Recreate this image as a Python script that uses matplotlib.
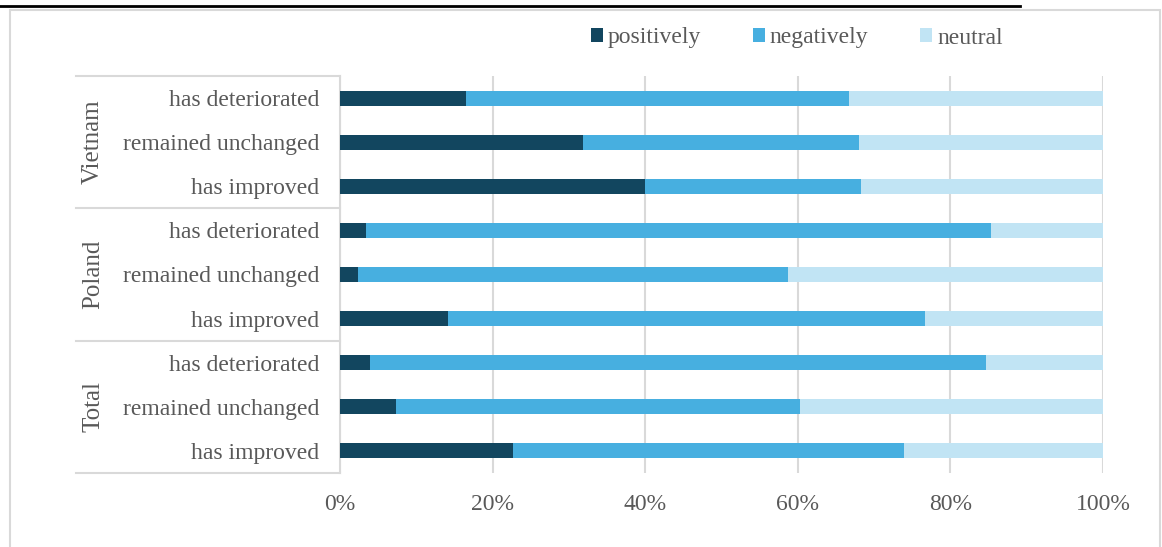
import matplotlib.pyplot as plt
import matplotlib.transforms as mtransforms
from matplotlib.patches import Patch, Rectangle
from matplotlib.lines import Line2D
import numpy as np

plt.rcParams['font.family'] = ['Liberation Serif', 'DejaVu Serif']

# rows from top to bottom
groups = ['Vietnam', 'Poland', 'Total']
answers = ['has deteriorated', 'remained unchanged', 'has improved']
positively = [16.5, 31.8, 40.0, 3.4, 2.3, 14.1, 3.9, 7.4, 22.7]
negatively = [50.2, 36.2, 28.3, 81.9, 56.4, 62.6, 80.8, 52.9, 51.2]
neutral = [33.3, 32.0, 31.7, 14.7, 41.3, 23.3, 15.3, 39.7, 26.1]
series_names = ['positively', 'negatively', 'neutral']
colors = ['#12465f', '#47afe0', '#c1e4f4']

W, H = 1162, 547
fig = plt.figure(figsize=(W / 100, H / 100), dpi=100)
ax = fig.add_axes([340 / W, 1 - 473 / H, 763 / W, 397 / H])

labels = answers * len(groups)
y = np.arange(len(labels))
left = np.zeros(len(labels))
for vals, name, c in zip([positively, negatively, neutral], series_names, colors):
    vals = np.array(vals)
    ax.barh(y, vals, left=left, height=0.34, color=c, label=name, zorder=3)
    left += vals

ax.set_xlim(0, 100)
ax.set_ylim(len(labels) - 0.5, -0.5)
ax.set_xticks(np.arange(0, 101, 20))
ax.set_xticklabels([f'{v}%' for v in range(0, 101, 20)])
ax.set_yticks(y)
ax.set_yticklabels(labels)
ax.grid(axis='x', color='#d9d9d9', linewidth=1.5, zorder=0)
for s in ['top', 'right', 'bottom']:
    ax.spines[s].set_visible(False)
ax.spines['left'].set_color('#d9d9d9')
ax.spines['left'].set_linewidth(1.5)
ax.tick_params(axis='both', length=0, labelsize=17, labelcolor='#595959')
ax.tick_params(axis='y', pad=15)
ax.tick_params(axis='x', pad=15)

# group boxes on the category axis
trans = mtransforms.blended_transform_factory(ax.transAxes, ax.transData)
x0 = (76 - 340) / 763
for b in [-0.5, 2.5, 5.5, 8.5]:
    ax.plot([x0, 0], [b, b], color='#d9d9d9', lw=1.5, transform=trans, clip_on=False)
for i, g in enumerate(groups):
    ax.text((93 - 340) / 763, i * 3 + 1, g, rotation=90, ha='center', va='center',
            fontsize=18, color='#595959', transform=trans)

handles = [Patch(facecolor=c, edgecolor='none') for c in colors]
fig.legend(handles, series_names, loc='center', bbox_to_anchor=(797 / W, 1 - 38 / H),
           ncol=3, frameon=False, fontsize=17, labelcolor='#595959',
           handlelength=0.5, handleheight=0.5, handletextpad=0.2, columnspacing=2.2)

# outer chart frame and top rule
fig.patches.append(Rectangle((10 / W, -0.05), 1150 / W, 1.05 - 10 / H, transform=fig.transFigure,
                             fill=False, edgecolor='#d9d9d9', linewidth=1.5))
fig.lines.append(Line2D([0, 1020 / W], [1 - 6 / H, 1 - 6 / H], transform=fig.transFigure,
                        color='black', linewidth=2))

fig.savefig('out.png', dpi=100)
